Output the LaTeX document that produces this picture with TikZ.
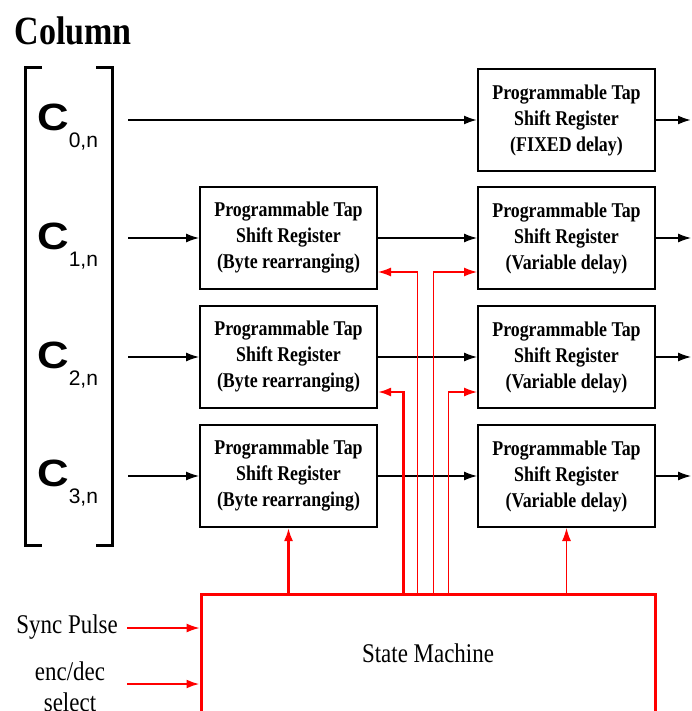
\documentclass[tikz,border=0pt]{standalone}
\usepackage{fontspec}
\setmainfont{Liberation Serif}[FakeStretch=0.85]
\newfontfamily\csans{Liberation Sans}[FakeStretch=1.15]
\newfontfamily\subsans{Liberation Sans}
\usetikzlibrary{arrows.meta,calc}

\newcommand\colsym[1]{{\csans\bfseries\fontsize{38}{38}\selectfont C}\raisebox{-17pt}{\subsans\fontsize{21}{21}\selectfont #1,n}}
\newcommand\boxfont{\bfseries\fontsize{21}{26}\selectfont}

\tikzset{
  regbox/.style={draw, line width=2pt, minimum width=177pt, minimum height=102pt,
    inner sep=0pt, align=center, font=\boxfont},
  wire/.style={-{Latex[length=13pt,width=9pt]}, line width=1.2pt},
  ctl/.style={red, -{Latex[length=13pt,width=9pt]}, line width=1.3pt},
  ctlthick/.style={ctl, line width=2.2pt},
}

\begin{document}
\begin{tikzpicture}[x=1pt,y=-1pt]
  \useasboundingbox (0,0) rectangle (691,711);

  \node (title) [anchor=base west, font=\bfseries\fontsize{40}{40}\selectfont] at (11,45) {Column};

  % column vector with its brackets
  \draw[line width=3pt] (42,68) -- (25,68) -- (25,545) -- (42,545);
  \draw[line width=3pt] (96,68) -- (112,68) -- (112,545) -- (96,545);
  \node (c0) [anchor=base west, inner sep=0pt] at (37,131) {\colsym{0}};
  \node (c1) [anchor=base west, inner sep=0pt] at (37,249) {\colsym{1}};
  \node (c2) [anchor=base west, inner sep=0pt] at (37,368) {\colsym{2}};
  \node (c3) [anchor=base west, inner sep=0pt] at (37,486) {\colsym{3}};

  % shift registers
  \node (var0) [regbox] at (566.5,120) {Programmable Tap\\Shift Register\\(FIXED delay)};
  \node (byte1) [regbox] at (288.5,238) {Programmable Tap\\Shift Register\\(Byte rearranging)};
  \node (var1) [regbox] at (566.5,238) {Programmable Tap\\Shift Register\\(Variable delay)};
  \node (byte2) [regbox] at (288.5,357) {Programmable Tap\\Shift Register\\(Byte rearranging)};
  \node (var2) [regbox] at (566.5,357) {Programmable Tap\\Shift Register\\(Variable delay)};
  \node (byte3) [regbox] at (288.5,476) {Programmable Tap\\Shift Register\\(Byte rearranging)};
  \node (var3) [regbox] at (566.5,476) {Programmable Tap\\Shift Register\\(Variable delay)};

  \node (sm) [draw=red, line width=3pt, minimum width=454pt, minimum height=118pt,
    font=\fontsize{27}{27}\selectfont] at (428,653) {State Machine};

  % data path
  \coordinate (in0) at (128,120);
  \coordinate (in1) at (128,238);
  \coordinate (in2) at (128,357);
  \coordinate (in3) at (128,476);
  \coordinate (out0) at (691,120);
  \coordinate (out1) at (691,238);
  \coordinate (out2) at (691,357);
  \coordinate (out3) at (691,476);

  \draw[wire, line width=2pt] (in0) -- (var0.west);
  \draw[wire, line width=2pt] (var0.east) -- (out0);
  \foreach \i in {1,2,3} {
    \draw[wire] (in\i) -- (byte\i.west);
    \draw[wire] (byte\i.east) -- (var\i.west);
    \draw[wire] (var\i.east) -- (out\i);
  }

  % control lines from the state machine
  \coordinate (tapA) at ($(sm.north west)+(204,0)$);
  \coordinate (tapB) at ($(sm.north west)+(218,0)$);
  \coordinate (tapC) at ($(sm.north west)+(234,0)$);
  \coordinate (tapD) at ($(sm.north west)+(249,0)$);
  \draw[ctlthick] (tapA) |- ($(byte2.east)+(0,35)$);
  \draw[ctl] (tapB) |- ($(byte1.east)+(0,34)$);
  \draw[ctl] (tapC) |- ($(var1.west)+(0,34)$);
  \draw[ctl] (tapD) |- ($(var2.west)+(0,35)$);
  \draw[ctlthick] (byte3.south |- sm.north) -- (byte3.south);
  \draw[ctl] (var3.south |- sm.north) -- (var3.south);

  % external inputs
  \node (sync) [anchor=east, inner sep=0pt, font=\fontsize{27}{27}\selectfont] at (118,627) {Sync Pulse};
  \node (encsel) [align=center, inner sep=0pt, font=\fontsize{27}{31}\selectfont] at (70,687) {enc/dec\\select};
  \coordinate (syncin) at (127,628);
  \coordinate (encin) at (127,684);
  \draw[ctl] (syncin) -- (syncin -| sm.west);
  \draw[ctlthick] (encin) -- (encin -| sm.west);
\end{tikzpicture}
\end{document}
